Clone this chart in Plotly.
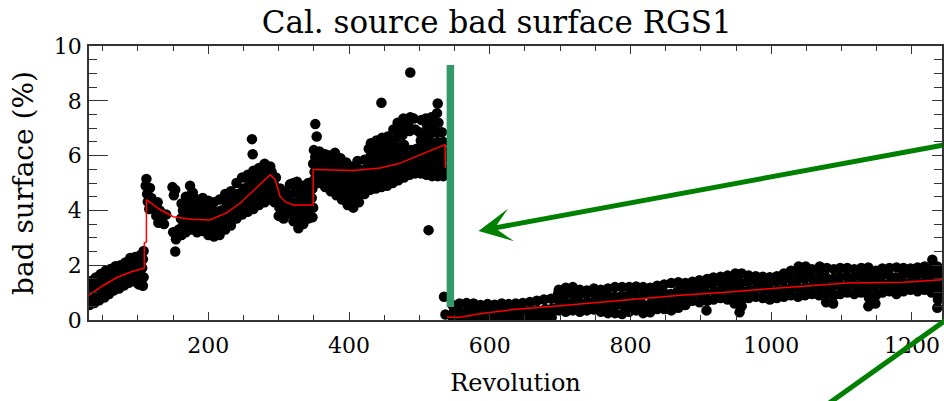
import plotly.graph_objects as go

# ---------------- data ----------------
rev_a = [31, 32, 30, 33, 38, 39, 37, 40, 45, 46, 44, 47, 52, 53, 51, 54,
         59, 60, 58, 61, 66, 67, 65, 68, 73, 74, 72, 75, 80, 81, 79, 82,
         87, 88, 86, 89, 94, 95, 93, 96, 101, 102, 100, 103,
         107, 108, 106, 107, 108]
bad_a = [0.55, 0.88, 1.18, 1.42, 0.62, 0.97, 1.3, 1.55, 0.72, 1.02, 1.36, 1.68, 0.82, 1.12, 1.47, 1.8,
         0.95, 1.27, 1.58, 1.86, 1.08, 1.36, 1.66, 1.96, 1.15, 1.46, 1.74, 2.0, 1.26, 1.57, 1.83, 2.1,
         1.36, 1.66, 1.96, 2.26, 1.42, 1.72, 2.02, 2.3, 1.3, 1.62, 1.96, 2.36,
         1.25, 1.56, 1.9, 2.22, 2.52]

rev_b = [111, 112, 113, 114, 116, 117, 119, 121,
         124, 126, 129, 131, 134, 137, 140, 128,
         149, 151, 153, 174, 178, 150, 154, 158, 153, 262, 263,
         162, 163, 161, 164, 162,
         168, 169, 167, 170, 168,
         176, 177, 175, 178, 176,
         184, 185, 183, 186, 184,
         192, 193, 191, 194, 192,
         200, 201, 199, 202, 200,
         208, 209, 207, 210, 208,
         216, 217, 215, 218, 216,
         224, 225, 223, 226, 224,
         232, 233, 231, 234, 232,
         240, 241, 239, 242, 240,
         248, 249, 247, 250, 248,
         256, 257, 255, 258, 256,
         264, 265, 263, 266, 264,
         272, 273, 271, 274, 272,
         280, 281, 279, 282, 280,
         288, 289, 287, 290, 288]
bad_b = [4.9, 5.15, 4.6, 4.32, 4.05, 4.82, 4.45, 4.2,
         4.1, 3.8, 3.55, 4.0, 3.7, 3.5, 3.85, 4.3,
         4.85, 4.55, 4.75, 4.9, 4.65, 3.2, 2.95, 3.3, 2.5, 6.6, 6.05,
         3.1, 3.4, 3.7, 4.0, 4.25,
         3.2, 3.5, 3.85, 4.2, 4.5,
         3.3, 3.6, 3.95, 4.3, 4.6,
         3.2, 3.5, 3.8, 4.1, 4.4,
         3.25, 3.55, 3.85, 4.15, 4.45,
         3.1, 3.4, 3.7, 4.0, 4.35,
         3.05, 3.35, 3.65, 3.95, 4.3,
         3.1, 3.4, 3.7, 4.0, 4.4,
         3.3, 3.6, 3.9, 4.25, 4.6,
         3.45, 3.75, 4.05, 4.35, 4.7,
         3.7, 4.0, 4.3, 4.6, 5.0,
         3.85, 4.15, 4.45, 4.8, 5.2,
         3.95, 4.25, 4.6, 4.95, 5.3,
         4.05, 4.4, 4.75, 5.1, 5.45,
         4.2, 4.5, 4.85, 5.2, 5.55,
         4.3, 4.65, 5.0, 5.35, 5.7,
         4.4, 4.75, 5.1, 5.4, 5.6]

rev_c = [294, 295, 293, 296,
         300, 301, 299, 302,
         307, 308, 306, 309,
         314, 315, 313, 316,
         321, 322, 320, 323, 321,
         328, 329, 327, 330, 328, 326,
         335, 336, 334, 337, 335,
         342, 343, 341, 344, 342,
         348, 349, 347, 348]
bad_c = [4.3, 4.6, 4.95, 5.2,
         3.8, 4.1, 4.45, 4.8,
         3.7, 4.0, 4.35, 4.7,
         3.9, 4.25, 4.6, 4.95,
         3.6, 3.95, 4.3, 4.65, 5.0,
         3.35, 3.7, 4.05, 4.4, 4.8, 5.05,
         3.5, 3.85, 4.2, 4.55, 4.9,
         3.7, 4.0, 4.35, 4.7, 5.0,
         3.75, 4.1, 4.45, 4.8]

rev_d = [350, 351, 349, 352, 350, 352, 354,
         358, 359, 357, 360, 358,
         366, 367, 365, 368, 366,
         374, 375, 373, 376, 374, 372,
         382, 383, 381, 384, 382, 380,
         390, 391, 389, 392, 390, 388,
         398, 399, 397, 400, 398, 396,
         406, 407, 405, 408, 406, 404,
         414, 415, 413, 416, 414, 412,
         422, 423, 421, 424, 422,
         430, 431, 429, 432, 430, 428, 431,
         438, 439, 437, 440, 438, 436, 439,
         446, 447, 445, 448, 446, 444, 447,
         454, 455, 453, 456, 454, 452, 455,
         462, 463, 461, 464, 462, 460, 463,
         470, 471, 469, 472, 470, 468, 471, 469,
         478, 479, 477, 480, 478, 476, 479, 477,
         486, 487, 485, 488, 486, 484, 487,
         494, 495, 493, 496, 494, 492,
         502, 503, 501, 504, 502, 500, 503,
         510, 511, 509, 512, 510, 508, 511, 509,
         518, 519, 517, 520, 518, 516, 519, 517,
         526, 527, 525, 528, 526, 524, 527, 525, 526,
         534, 535, 533, 536, 534, 532,
         446, 487, 513]
bad_d = [5.1, 5.4, 5.7, 5.95, 6.2, 7.15, 6.7,
         5.0, 5.3, 5.6, 5.9, 6.15,
         4.85, 5.15, 5.45, 5.75, 6.05,
         4.7, 5.0, 5.3, 5.6, 5.85, 6.0,
         4.55, 4.85, 5.15, 5.45, 5.75, 6.1,
         4.4, 4.7, 5.0, 5.3, 5.6, 5.9,
         4.2, 4.5, 4.8, 5.1, 5.4, 5.75,
         4.1, 4.4, 4.7, 5.0, 5.3, 5.6,
         4.3, 4.6, 4.9, 5.2, 5.5, 5.8,
         4.6, 4.9, 5.2, 5.5, 5.85,
         4.75, 5.05, 5.35, 5.65, 5.95, 6.25, 6.45,
         4.8, 5.1, 5.4, 5.7, 6.0, 6.3, 6.55,
         4.85, 5.15, 5.45, 5.75, 6.05, 6.35, 6.65,
         4.9, 5.2, 5.5, 5.8, 6.1, 6.4, 6.7,
         5.0, 5.3, 5.6, 5.9, 6.2, 6.5, 6.95,
         5.1, 5.4, 5.7, 6.0, 6.3, 6.65, 6.95, 7.2,
         5.2, 5.5, 5.8, 6.1, 6.4, 6.75, 7.05, 7.35,
         5.3, 5.6, 5.9, 6.2, 6.9, 7.15, 7.4,
         5.35, 5.65, 5.95, 6.25, 6.95, 7.35,
         5.35, 5.65, 5.95, 6.25, 6.55, 6.85, 7.3,
         5.3, 5.6, 5.9, 6.2, 6.5, 6.8, 7.1, 7.35,
         5.25, 5.55, 5.85, 6.15, 6.45, 6.8, 7.1, 7.4,
         5.25, 5.55, 5.85, 6.15, 6.5, 6.85, 7.2, 7.55, 7.9,
         5.25, 5.55, 5.85, 6.15, 6.5, 6.85,
         7.93, 9.03, 3.28]

rev_e = [535, 537,
         548, 549, 547, 558, 559, 557, 568, 569, 567, 578, 579, 577,
         588, 589, 587, 598, 599, 597, 608, 609, 607, 618, 619, 617,
         628, 629, 627, 638, 639, 637, 648, 649, 647, 658, 659, 657,
         668, 669, 667, 678, 679, 677, 688, 689, 687,
         698, 699, 697, 698, 708, 709, 707, 708, 718, 719, 717, 718,
         728, 729, 727, 728, 738, 739, 737, 738, 748, 749, 747, 748,
         758, 759, 757, 758, 768, 769, 767, 768, 778, 779, 777, 778,
         788, 789, 787, 788, 798, 799, 797, 798, 808, 809, 807, 808,
         818, 819, 817, 818, 828, 829, 827, 828, 838, 839, 837, 838,
         848, 849, 847, 848, 858, 859, 857, 858, 868, 869, 867, 868,
         878, 879, 877, 878, 888, 889, 887, 888, 898, 899, 897, 898,
         908, 909, 907, 908, 909,
         918, 919, 917, 918, 928, 929, 927, 928, 938, 939, 937, 938,
         948, 949, 947, 948, 949,
         955, 958, 958, 959, 957, 958,
         968, 969, 967, 968, 978, 979, 977, 978, 988, 989, 987, 988,
         998, 999, 997, 998, 1008, 1009, 1007, 1008, 1018, 1019, 1017, 1018,
         1028, 1029, 1027, 1028,
         1038, 1039, 1037, 1038, 1039, 1048, 1049, 1047, 1048, 1049,
         1058, 1059, 1057, 1058,
         1068, 1069, 1067, 1068, 1069, 1078, 1079, 1077, 1078, 1079,
         1088, 1089, 1087, 1088, 1089,
         1098, 1099, 1097, 1098, 1108, 1109, 1107, 1108,
         1118, 1119, 1117, 1118, 1128, 1129, 1127, 1128,
         1138, 1139, 1137, 1138, 1139, 1138,
         1148, 1149, 1147, 1148, 1149,
         1158, 1159, 1157, 1158, 1168, 1169, 1167, 1168,
         1178, 1179, 1177, 1178, 1188, 1189, 1187, 1188,
         1198, 1199, 1197, 1198, 1208, 1209, 1207, 1208,
         1218, 1219, 1217, 1218,
         1228, 1229, 1227, 1228, 1229,
         1236, 1237, 1235, 1236, 1237, 1236,
         1242, 1243, 1241, 1242]
bad_e = [0.85, 0.2,
         0.05, 0.3, 0.55, 0.05, 0.3, 0.6, 0.08, 0.35, 0.62, 0.05, 0.3, 0.6,
         0.05, 0.3, 0.55, 0.08, 0.32, 0.58, 0.05, 0.3, 0.56, 0.08, 0.32, 0.6,
         0.05, 0.3, 0.58, 0.1, 0.35, 0.6, 0.05, 0.3, 0.62, 0.1, 0.38, 0.66,
         0.08, 0.35, 0.7, 0.12, 0.4, 0.75, 0.1, 0.42, 0.78,
         0.35, 0.65, 0.95, 1.1, 0.3, 0.6, 0.9, 1.18, 0.35, 0.65, 0.95, 1.2,
         0.3, 0.6, 0.9, 1.1, 0.35, 0.65, 0.95, 1.08, 0.38, 0.68, 0.98, 1.15,
         0.3, 0.6, 0.9, 1.1, 0.25, 0.55, 0.85, 1.15, 0.25, 0.55, 0.85, 1.2,
         0.22, 0.55, 0.88, 1.2, 0.3, 0.6, 0.9, 1.2, 0.35, 0.65, 0.95, 1.22,
         0.25, 0.55, 0.9, 1.2, 0.28, 0.6, 0.92, 1.18, 0.4, 0.7, 1.0, 1.25,
         0.4, 0.7, 1.0, 1.3, 0.35, 0.65, 0.95, 1.35, 0.45, 0.75, 1.05, 1.38,
         0.55, 0.85, 1.15, 1.35, 0.7, 1.0, 1.3, 1.4, 0.65, 0.95, 1.25, 1.45,
         0.35, 0.7, 1.0, 1.3, 1.5,
         0.75, 1.05, 1.35, 1.55, 0.8, 1.1, 1.4, 1.58, 0.75, 1.05, 1.35, 1.62,
         0.6, 0.9, 1.2, 1.5, 1.7,
         0.28, 0.5, 0.75, 1.05, 1.35, 1.7,
         0.8, 1.1, 1.4, 1.62, 0.85, 1.15, 1.45, 1.6, 0.8, 1.1, 1.4, 1.58,
         0.75, 1.05, 1.35, 1.56, 0.8, 1.1, 1.4, 1.6, 0.85, 1.15, 1.45, 1.7,
         0.9, 1.2, 1.5, 1.8,
         0.85, 1.15, 1.45, 1.75, 1.95, 0.9, 1.2, 1.5, 1.8, 1.95,
         0.95, 1.25, 1.55, 1.85,
         0.9, 1.2, 1.5, 1.8, 1.95, 0.65, 0.95, 1.25, 1.55, 1.9,
         0.6, 0.9, 1.2, 1.5, 1.85,
         0.95, 1.25, 1.55, 1.9, 1.0, 1.3, 1.6, 1.9,
         0.95, 1.25, 1.55, 1.85, 1.0, 1.3, 1.6, 1.9,
         0.5, 0.8, 1.1, 1.4, 1.7, 1.92,
         0.6, 0.9, 1.2, 1.5, 1.8,
         1.0, 1.3, 1.6, 1.88, 1.05, 1.35, 1.65, 1.9,
         0.95, 1.25, 1.55, 1.92, 1.05, 1.35, 1.65, 1.9,
         1.1, 1.4, 1.7, 1.88, 1.05, 1.35, 1.65, 1.92,
         1.1, 1.4, 1.7, 1.95,
         1.0, 1.3, 1.6, 1.9, 2.2,
         0.45, 0.75, 1.05, 1.35, 1.65, 1.95,
         0.8, 1.1, 1.4, 1.7]

# piecewise fit (red)
fit_rev = [30, 50, 70, 90, 107, 109, 109, 112, 112, 130, 150, 175, 202, 225, 245, 265, 288,
           295, 302, 310, 321, 347, 349, 349, 352, 406, 444, 470, 491, 515, 536.5, 537,
           None,
           539, 558, 586, 633, 704, 757, 814, 871, 931, 966, 1031, 1070, 1108, 1188, 1243]
fit_bad = [0.9, 1.25, 1.55, 1.75, 1.88, 1.9, 2.8, 2.85, 4.39, 4.05, 3.77, 3.68, 3.65, 3.9, 4.26, 4.75, 5.3,
           5.12, 4.51, 4.3, 4.2, 4.2, 4.2, 5.49, 5.49, 5.46, 5.55, 5.7, 5.92, 6.15, 6.4, 5.55,
           None,
           0.1, 0.1, 0.23, 0.38, 0.53, 0.65, 0.78, 0.9, 1.0, 1.08, 1.2, 1.27, 1.35, 1.38, 1.47]

x_range = [30.4, 1242.7]
y_range = [0, 10]
x_major = [200, 400, 600, 800, 1000, 1200]
y_major = [0, 2, 4, 6, 8, 10]

# overlay marks (annotation layer)
bar_rev, bar_lo, bar_hi = 544, 0.47, 9.31
arrow_tip_rev, arrow_tip_bad = 584, 3.25
# second pointer line, in paper fractions (runs off the bottom/right edges)
pointer2_x = [0.857, 1.0563]
pointer2_y = [-0.327, 0.1146]

FONT = "DejaVu Serif"

rev_all = rev_a + rev_b + rev_c + rev_d + rev_e
bad_all = bad_a + bad_b + bad_c + bad_d + bad_e

fig = go.Figure()
fig.add_trace(go.Scatter(x=rev_all, y=bad_all, mode="markers",
                         marker=dict(color="black", size=10.5, line=dict(width=0)),
                         hoverinfo="skip", showlegend=False))
fig.add_trace(go.Scatter(x=fit_rev, y=fit_bad, mode="lines", yaxis="y2",
                         line=dict(color="#ff0000", width=1.5),
                         hoverinfo="skip", showlegend=False))

axis_col = "#333333"
tickfont = dict(family=FONT, size=22, color="black")

fig.update_layout(
    width=944, height=401,
    margin=dict(l=89, r=2, t=46, b=81),
    paper_bgcolor="white", plot_bgcolor="white",
    title=dict(text="Cal. source bad surface RGS1", x=0.478, xref="paper", xanchor="center",
               y=0.946, yref="container", yanchor="middle",
               font=dict(family=FONT, size=31, color="black")),
    xaxis=dict(range=x_range, tickvals=x_major, showgrid=False, zeroline=False, automargin=False,
               showline=True, linecolor=axis_col, linewidth=1.5, mirror="ticks",
               ticks="inside", ticklen=8, tickwidth=1.2, tickcolor=axis_col,
               minor=dict(dtick=50, tick0=0, ticks="inside", ticklen=5, tickwidth=1, tickcolor=axis_col),
               tickfont=tickfont, ticklabelstandoff=5,
               title=dict(text="Revolution", font=dict(family=FONT, size=24, color="black"), standoff=17)),
    yaxis=dict(range=y_range, tickvals=y_major, showgrid=False, zeroline=False, automargin=False,
               showline=True, linecolor=axis_col, linewidth=1.5, mirror=False,
               ticks="inside", ticklen=19, tickwidth=1.2, tickcolor=axis_col,
               minor=dict(dtick=0.5, tick0=0, ticks="inside", ticklen=8, tickwidth=1, tickcolor=axis_col),
               tickfont=tickfont, ticklabelstandoff=1,
               title=dict(text="bad surface (%)", font=dict(family=FONT, size=28, color="black"), standoff=12)),
    yaxis2=dict(range=y_range, overlaying="y", side="right", anchor="x", showgrid=False, zeroline=False,
                automargin=False,
                showline=True, linecolor=axis_col, linewidth=1.5,
                ticks="inside", ticklen=10, tickwidth=1.2, tickcolor=axis_col, tickvals=y_major,
                minor=dict(dtick=0.5, tick0=0, ticks="inside", ticklen=8, tickwidth=1, tickcolor=axis_col),
                showticklabels=False),
)

fig.add_shape(type="line", xref="x", yref="y", x0=bar_rev, x1=bar_rev, y0=bar_lo, y1=bar_hi,
              line=dict(color="#339966", width=7.5), layer="above")

fig.add_annotation(x=arrow_tip_rev, y=arrow_tip_bad, xref="x", yref="y", text="",
                   showarrow=True, arrowhead=3, arrowsize=1.1, arrowwidth=5, arrowcolor="#008000",
                   ax=472, ay=-86)
fig.add_shape(type="line", xref="paper", yref="paper",
              x0=pointer2_x[0], y0=pointer2_y[0], x1=pointer2_x[1], y1=pointer2_y[1],
              line=dict(color="#008000", width=5), layer="above")

# remove the default page margin so the figure fills the window exactly
fig.write_html("out.html", config={"displayModeBar": False},
               post_script="document.body.style.margin='0';document.body.style.overflow='hidden';")
